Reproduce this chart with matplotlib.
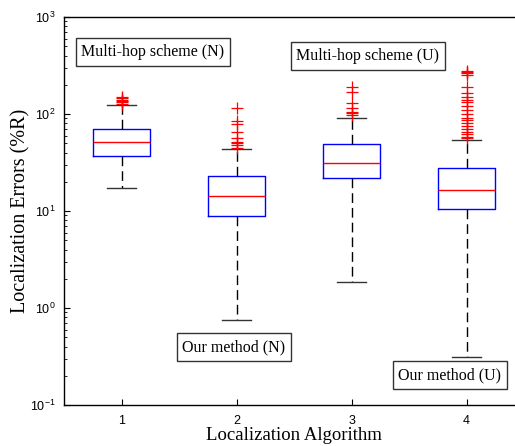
import matplotlib
matplotlib.use('Agg')
import matplotlib.pyplot as plt

plt.rcParams['mathtext.fontset'] = 'custom'
plt.rcParams['mathtext.rm'] = 'Liberation Sans'
plt.rcParams['mathtext.it'] = 'Liberation Sans:italic'
plt.rcParams['mathtext.bf'] = 'Liberation Sans:bold'

# box statistics (localization error, %R)
positions = [1, 2, 3, 4]
medians = [51, 14.2, 31.5, 16.4]
q1 = [37, 8.9, 22, 10.5]
q3 = [70, 23, 49, 27.5]
whislo = [17.3, 0.76, 1.87, 0.31]
whishi = [124, 43.5, 90, 53.6]
fliers = [
    [150, 145, 140, 136, 132, 128],
    [116, 85, 78, 65, 56, 52, 50, 48, 45],
    [191, 167, 129, 115, 106, 102, 98],
    [280, 270, 262, 255, 190, 165, 150, 140, 132, 122, 110, 100, 92,
     86, 80, 75, 70, 66, 62, 58, 56],
]
xtick_labels = ['1', '2', '3', '4']

notes = ['Multi-hop scheme (N)', 'Our method (N)',
         'Multi-hop scheme (U)', 'Our method (U)']

stats = []
for i in range(4):
    stats.append({'med': medians[i], 'q1': q1[i], 'q3': q3[i],
                  'whislo': whislo[i], 'whishi': whishi[i],
                  'fliers': fliers[i]})

fig = plt.figure(figsize=(5.15, 4.46), dpi=100)
# axes runs past the right edge of the figure, like the original crop
ax = fig.add_axes([64 / 515, 1 - 405 / 446, (524 - 64) / 515, 388 / 446])

ax.bxp(stats, positions=positions, widths=0.5,
       boxprops=dict(color='#0000ff', linewidth=1.0),
       medianprops=dict(color='#ff0000', linewidth=1.0),
       whiskerprops=dict(color='black', linestyle=(0, (7, 3.6)), linewidth=1.0),
       capprops=dict(color='#333333', linewidth=1.0),
       flierprops=dict(marker='+', markeredgecolor='#ff0000',
                       markersize=8, markeredgewidth=0.9, linestyle='none'))

ax.set_yscale('log')
ax.set_ylim(0.1, 1000)
ax.set_xlim(0.5, 4.5)
ax.set_xticks(positions)
ax.set_xticklabels(xtick_labels)
ax.tick_params(direction='in', labelsize=9, length=4, width=0.8,
               labelfontfamily='Liberation Sans')
ax.tick_params(which='minor', direction='in', length=2, width=0.6)
ax.tick_params(axis='x', pad=7)
ax.tick_params(axis='y', pad=6)

for s in ax.spines.values():
    s.set_linewidth(1.0)

ax.set_xlabel('Localization Algorithm', family='Liberation Serif',
              fontsize=13.5, labelpad=0)
ax.set_ylabel('Localization Errors (%R)', family='Liberation Serif',
              fontsize=14.5, labelpad=0)

box = dict(boxstyle='square,pad=0.35', facecolor='white',
           edgecolor='#333333', linewidth=1.0)
note_pos = [(153, 52), (234, 347), (368, 56), (450, 375)]
for txt, (px, py) in zip(notes, note_pos):
    fig.text(px / 515, 1 - py / 446, txt, family='Liberation Serif',
             fontsize=11.5, ha='center', va='center', bbox=box)

fig.savefig('out.png', dpi=100)
